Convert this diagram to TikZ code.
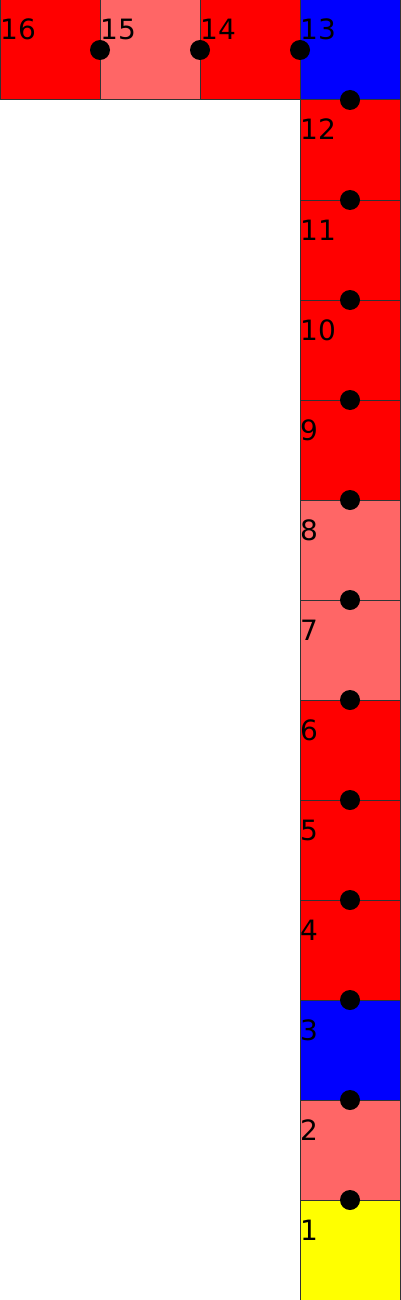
\documentclass[tikz,border=0pt]{standalone}
\usepackage{fontspec}
\setmainfont{DejaVu Sans}
\usetikzlibrary{calc}
\definecolor{lred}{HTML}{FF6666}
\definecolor{bred}{HTML}{FF0000}
\definecolor{bblue}{HTML}{0000FF}
\definecolor{byel}{HTML}{FFFF00}
\definecolor{edge}{HTML}{333333}
\tikzset{
  sq/.style={draw=edge, line width=1pt, minimum size=100pt, inner sep=0pt, outer sep=0pt},
  lbl/.style={anchor=base west, inner sep=0pt, font=\fontsize{28}{28}\selectfont},
  dot/.style={circle, fill=black, minimum size=20pt, inner sep=0pt}
}
\begin{document}
\begin{tikzpicture}[x=1pt,y=-1pt]
\useasboundingbox (0,0) rectangle (400,1300);
% column
\node[sq, fill=byel]  (s1)  at (350,1250) {};
\node[sq, fill=lred]  (s2)  at (350,1150) {};
\node[sq, fill=bblue] (s3)  at (350,1050) {};
\node[sq, fill=bred]  (s4)  at (350,950) {};
\node[sq, fill=bred]  (s5)  at (350,850) {};
\node[sq, fill=bred]  (s6)  at (350,750) {};
\node[sq, fill=lred]  (s7)  at (350,650) {};
\node[sq, fill=lred]  (s8)  at (350,550) {};
\node[sq, fill=bred]  (s9)  at (350,450) {};
\node[sq, fill=bred]  (s10) at (350,350) {};
\node[sq, fill=bred]  (s11) at (350,250) {};
\node[sq, fill=bred]  (s12) at (350,150) {};
\node[sq, fill=bblue] (s13) at (350,50) {};
\node[sq, fill=bred]  (s14) at (250,50) {};
\node[sq, fill=lred]  (s15) at (150,50) {};
\node[sq, fill=bred]  (s16) at (50,50) {};
% labels
\foreach \i in {1,...,16}{
  \node[lbl] (l\i) at ($(s\i.north west)+(0,40)$) {\i};
}
% dots
\foreach \a/\b in {1/2,2/3,3/4,4/5,5/6,6/7,7/8,8/9,9/10,10/11,11/12,12/13,13/14,14/15,15/16}{
  \node[dot] (d\a) at ($(s\a)!0.5!(s\b)$) {};
}
\end{tikzpicture}
\end{document}
